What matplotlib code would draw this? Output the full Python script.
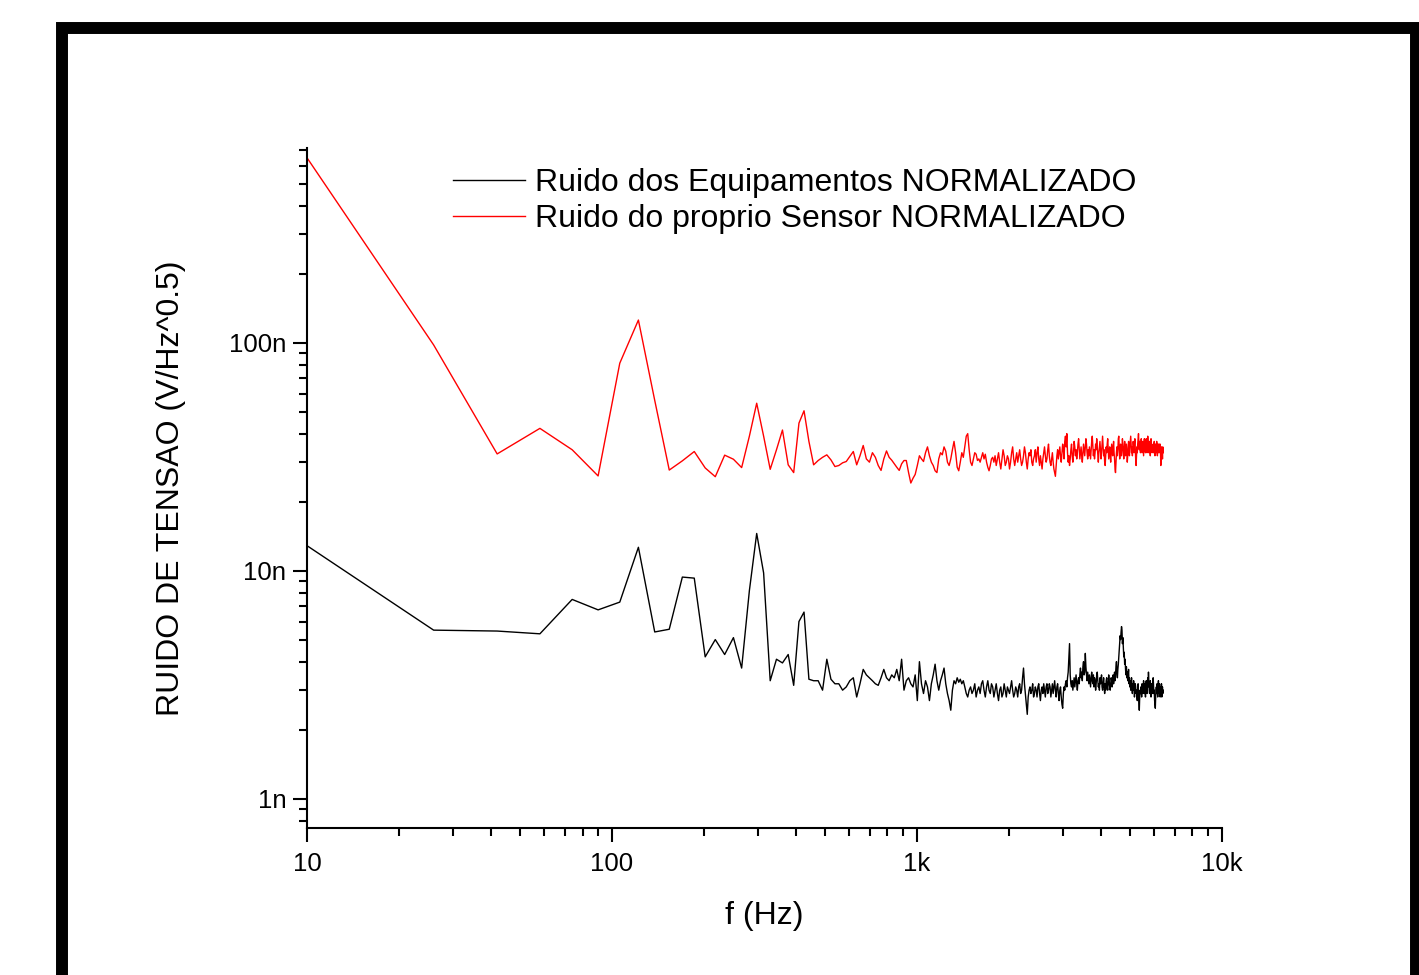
import numpy as np
import matplotlib
matplotlib.use("Agg")
import matplotlib.pyplot as plt
from matplotlib.patches import Rectangle
from matplotlib.ticker import FuncFormatter, LogLocator

plt.rcParams['font.family'] = ['Liberation Sans', 'DejaVu Sans']

# ========================
# DADOS (nV/sqrt(Hz)), bins de 16 Hz a partir de 10 Hz
# ========================
F_START = 10
F_STEP = 16

LABEL_EQUIP = "Ruido dos Equipamentos NORMALIZADO"
LABEL_SENSOR = "Ruido do proprio Sensor NORMALIZADO"

equip_nv = [
    12.9, 5.5, 5.45, 5.3, 7.5, 6.75, 7.3, 12.7, 5.4, 5.55,
    9.4, 9.3, 4.2, 5.0, 4.3, 5.1, 3.75, 8.2, 14.6, 9.8,
    3.3, 4.1, 3.95, 4.3, 3.15, 6.0, 6.6, 3.35, 3.3, 3.3,
    3.0, 4.1, 3.35, 3.2, 3.2, 3.0, 3.1, 3.3, 3.4, 2.8,
    3.2, 3.7, 3.5, 3.4, 3.3, 3.2, 3.15, 3.4, 3.7, 3.4,
    3.3, 3.5, 3.4, 3.7, 3.3, 4.1, 3.0, 3.3, 3.4, 3.2,
    3.1, 3.5, 2.7, 4.0, 3.2, 2.9, 3.3, 3.1, 2.7, 3.2,
    3.5, 3.9, 3.3, 3.0, 3.3, 3.5, 3.75, 3.2, 2.9, 2.7,
    2.45, 3.0, 3.3, 3.2, 3.4, 3.25, 3.35, 3.2, 3.3, 3.1,
    2.9, 2.8, 3.0, 3.1, 2.9, 3.0, 3.2, 2.8, 3.0, 3.1,
    2.9, 3.2, 3.3, 3.0, 2.8, 3.1, 3.3, 3.0, 2.9, 3.2,
    3.1, 2.8, 3.0, 3.2, 2.9, 2.7, 3.0, 3.1, 2.8, 2.9,
    3.2, 3.0, 2.8, 3.1, 3.0, 2.9, 3.1, 3.3, 3.0, 2.8,
    2.9, 3.1, 3.0, 2.8, 3.1, 3.2, 2.9, 3.0, 3.4, 3.75,
    3.2, 2.9, 2.6, 2.35, 2.8, 3.0, 3.1, 2.9, 3.0, 3.2,
    2.8, 2.9, 3.1, 3.0, 2.8, 3.1, 3.2, 2.9, 2.7, 3.0,
    3.1, 2.9, 3.2, 3.0, 2.8, 3.1, 3.2, 2.9, 3.0, 3.2,
    3.1, 2.8, 3.0, 3.2, 2.9, 3.1, 3.3, 3.0, 2.8, 3.1,
    3.2, 2.9, 2.7, 3.0, 3.1, 2.8, 2.6, 2.5, 2.9, 3.1,
    3.0, 3.2, 3.3, 3.1, 3.4, 3.6, 4.2, 4.8, 3.5, 3.2,
    3.1, 3.3, 3.0, 3.2, 3.4, 3.1, 3.3, 3.5, 3.2, 3.0,
    3.3, 3.4, 3.2, 3.5, 3.75, 3.4, 3.6, 3.3, 3.8, 4.0,
    3.5, 3.6, 4.35, 3.8, 3.5, 3.3, 3.6, 3.4, 3.2, 3.5,
    3.3, 3.1, 3.4, 3.6, 3.3, 3.2, 3.5, 3.1, 3.4, 3.3,
    3.0, 3.2, 3.5, 3.6, 3.3, 3.1, 3.2, 3.0, 3.4, 3.2,
    3.3, 3.5, 3.1, 3.0, 3.2, 3.4, 3.1, 2.9, 3.2, 3.0,
    3.3, 3.4, 3.1, 3.0, 3.2, 3.5, 3.3, 3.1, 3.0, 3.2,
    3.4, 3.3, 3.1, 3.3, 3.5, 3.2, 3.4, 3.6, 3.3, 3.5,
    3.8, 4.0, 3.6, 3.4, 3.7, 3.9, 4.2, 4.6, 4.9, 5.2,
    5.0, 5.4, 5.7, 5.5, 4.8, 5.1, 4.6, 4.2, 4.4, 3.9,
    4.1, 3.7, 3.5, 3.8, 3.4, 3.6, 3.3, 3.5, 3.7, 3.2,
    3.4, 3.1, 3.3, 3.0, 3.2, 3.4, 3.1, 2.9, 3.2, 3.0,
    3.3, 3.1, 2.8, 3.0, 3.2, 3.1, 2.9, 3.0, 2.8, 2.7,
    3.0, 3.2, 2.9, 2.6, 2.45, 2.8, 3.0, 2.9, 3.1, 3.0,
    2.8, 3.2, 3.1, 2.9, 3.0, 3.3, 3.1, 2.9, 3.2, 3.0,
    2.8, 3.1, 3.3, 3.0, 2.9, 3.2, 3.4, 3.1, 3.6, 3.3,
    3.0, 2.9, 3.1, 3.3, 3.0, 2.8, 3.1, 3.2, 2.9, 3.0,
    3.2, 3.4, 3.1, 2.9, 3.0, 2.7, 2.6, 2.5, 2.8, 3.0,
    3.1, 2.9, 3.2, 3.0, 2.8, 3.1, 3.3, 3.0, 2.9, 3.2,
    3.0, 2.8, 3.1, 3.0, 2.9, 3.2, 2.8, 3.0, 3.1, 2.9,
    3.0,
]

sensor_nv = [
    648, 98, 32.6, 42.2, 34, 26.1, 81.5, 126, 56, 27.7,
    30.4, 33.4, 28.3, 25.9, 32.2, 30.9, 28.4, 39, 54.4, 39,
    27.9, 34, 41.5, 29.2, 27, 44.5, 50.4, 37, 29.2, 30.5,
    31.5, 32.3, 30.7, 28.7, 29, 29.8, 30.2, 31.8, 33.4, 29.2,
    32, 35.5, 31, 30, 33, 31.5, 29, 27.6, 31, 33.6,
    31.5, 30.6, 29.5, 28.5, 27.6, 29.5, 30.5, 30.5, 27, 24.3,
    25.5, 26.5, 29, 32, 31, 30.2, 33, 35, 32, 30,
    29, 27.5, 27, 31, 33, 32.3, 35, 33.5, 30, 29,
    31, 34, 37, 33, 28.5, 27.5, 30, 33, 31.5, 35,
    39, 40, 34, 30, 29, 31, 33, 32.5, 30.5, 31,
    30, 31.5, 33, 31, 32.5, 30, 28.5, 27.5, 29, 31,
    31.5, 30, 32, 29, 31, 33, 30, 28, 31, 34,
    32, 29, 30, 32, 31, 28, 30, 33, 35, 31,
    29, 31, 33, 30, 32, 34, 31, 29, 30, 32,
    35, 33, 30, 28, 31, 33, 32, 34, 30, 29,
    31, 32, 34, 30, 33, 35, 31, 29, 32, 30,
    28, 31, 33, 35, 32, 30, 31, 34, 36, 32,
    30, 29, 31, 33, 30, 28, 27, 26, 29, 32,
    34, 31, 33, 35, 32, 30, 33, 36, 34, 31,
    37, 39, 35, 40, 33, 30, 32, 29, 31, 34,
    36, 32, 30, 33, 37, 35, 32, 34, 31, 33,
    36, 38, 34, 31, 33, 35, 32, 30, 33, 36,
    34, 32, 35, 38, 36, 33, 31, 34, 32, 35,
    33, 31, 34, 37, 39, 35, 32, 34, 31, 33,
    36, 34, 38, 35, 32, 30, 33, 35, 37, 34,
    31, 33, 36, 39, 35, 32, 34, 30, 29, 32,
    35, 33, 36, 38, 34, 31, 33, 35, 32, 30,
    33, 36, 34, 32, 35, 37, 33, 31, 28, 27,
    30, 33, 35, 32, 34, 38, 39, 35, 31, 33,
    36, 34, 32, 35, 38, 36, 33, 31, 34, 37,
    35, 32, 34, 36, 33, 30, 32, 35, 37, 34,
    32, 35, 37, 39, 36, 33, 35, 32, 34, 37,
    35, 33, 36, 38, 34, 31, 29, 32, 35, 33,
    36, 38, 40, 36, 34, 37, 35, 33, 36, 38,
    35, 33, 35, 37, 34, 32, 35, 38, 36, 34,
    33, 36, 38, 35, 33, 36, 39, 37, 34, 33,
    35, 37, 34, 32, 35, 38, 36, 34, 33, 35,
    34, 36, 33, 35, 37, 34, 32, 34, 36, 33,
    35, 37, 34, 32, 35, 36, 33, 34, 36, 35,
    33, 36, 34, 29, 33, 35, 32, 34, 31, 35,
    33,
]


def freq_axis(values):
    # eixo de frequencia linear do espectro (bins de 16 Hz)
    return F_START + F_STEP * np.arange(len(values))


def eng_x(v, pos):
    if v >= 1000:
        return f"{v / 1000:g}k"
    return f"{v:g}"


def eng_y(v, pos):
    return f"{v:g}n"


fig = plt.figure(figsize=(14.19, 9.75), dpi=100)
ax = fig.add_axes([0.2164, 0.1508, 0.6448, 0.6974])

ax.plot(freq_axis(equip_nv), equip_nv, color='black', lw=1.0, label=LABEL_EQUIP)
ax.plot(freq_axis(sensor_nv), sensor_nv, color='red', lw=1.0, label=LABEL_SENSOR)

ax.set_xscale('log')
ax.set_yscale('log')
ax.set_xlim(10, 10000)
ax.set_ylim(0.746, 716)

ax.xaxis.set_major_formatter(FuncFormatter(eng_x))
ax.yaxis.set_major_formatter(FuncFormatter(eng_y))
ax.yaxis.set_major_locator(LogLocator(base=10, numticks=10))
ax.xaxis.set_minor_formatter(FuncFormatter(lambda v, p: ""))
ax.yaxis.set_minor_formatter(FuncFormatter(lambda v, p: ""))

for side in ('top', 'right'):
    ax.spines[side].set_visible(False)
for side in ('left', 'bottom'):
    ax.spines[side].set_linewidth(1.5)

ax.tick_params(which='major', direction='out', length=10, width=1.5,
               labelsize=18.5, pad=5)
ax.tick_params(axis='x', which='major', pad=7)
ax.tick_params(which='minor', direction='out', length=5.5, width=1.5)

ax.set_xlabel('f (Hz)', fontsize=23, labelpad=18)
ax.set_ylabel('RUIDO DE TENSAO (V/Hz^0.5)', fontsize=23, labelpad=31)

ax.legend(loc='upper left', bbox_to_anchor=(0.3192, 0.8277),
          bbox_transform=fig.transFigure, frameon=False, fontsize=23,
          handlelength=2.25, handletextpad=0.31, labelspacing=0.2,
          borderpad=0, borderaxespad=0)

# moldura preta grossa em volta da figura
fig.patches.append(Rectangle((61.5 / 1419, -0.1), (1416 - 61.5) / 1419, 0.1 + 1 - 28 / 975,
                             transform=fig.transFigure, fill=False,
                             edgecolor='black', lw=8.6, zorder=10))

fig.savefig("out.png", dpi=100)
